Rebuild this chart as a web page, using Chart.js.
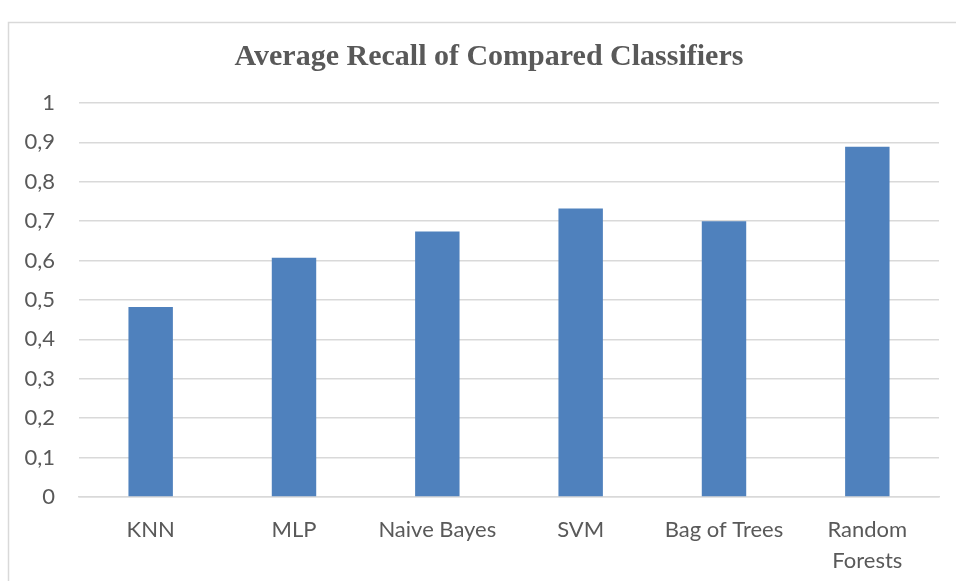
<!DOCTYPE html>
<html>
<head>
<meta charset="utf-8">
<script src="https://cdn.jsdelivr.net/npm/chart.js@4.4.0/dist/chart.umd.min.js"></script>
<style>
  html, body { margin: 0; padding: 0; background: #fff; }
  #wrap { width: 956px; height: 581px; position: relative; }
</style>
</head>
<body>
<div id="wrap"><canvas id="recallChart"></canvas></div>
<script>
// Classifier names and their average recall
const classifiers = ["KNN", "MLP", "Naive Bayes", "SVM", "Bag of Trees", ["Random", "Forests"]]
const avgRecall = [0.482, 0.607, 0.674, 0.732, 0.700, 0.889]
const yTicks = [0, 0.1, 0.2, 0.3, 0.4, 0.5, 0.6, 0.7, 0.8, 0.9, 1]
const chartTitle = "Average Recall of Compared Classifiers"

const textGray = "#595959"
const gridGray = "#d9d9d9"
const barBlue = "#4f81bd"

// light frame around the whole chart, like an office chart object
const framePlugin = {
  id: "frame",
  beforeDraw(chart) {
    const ctx = chart.ctx
    ctx.save()
    ctx.fillStyle = "#fff"
    ctx.fillRect(0, 0, chart.width, chart.height)
    ctx.strokeStyle = gridGray
    ctx.lineWidth = 1.5
    ctx.strokeRect(8.5, 22.5, 1200, 1200)
    ctx.restore()
  },
}

// title centred on the chart object rather than the canvas
const titlePlugin = {
  id: "centredTitle",
  afterDraw(chart) {
    const ctx = chart.ctx
    ctx.save()
    ctx.fillStyle = textGray
    ctx.font = "bold 30px 'Liberation Serif', serif"
    ctx.textAlign = "center"
    ctx.textBaseline = "middle"
    ctx.fillText(chartTitle, 489, 57)
    ctx.restore()
  },
}

const ctx = document.getElementById("recallChart")
new Chart(ctx, {
  type: "bar",
  data: {
    labels: classifiers,
    datasets: [
      {
        label: "Average Recall",
        data: avgRecall,
        backgroundColor: barBlue,
        borderWidth: 0,
        barPercentage: 0.31,
        categoryPercentage: 1,
      },
    ],
  },
  options: {
    responsive: true,
    maintainAspectRatio: false,
    animation: false,
    layout: {
      padding: { top: 103, right: 17, bottom: 0, left: 10 },
    },
    plugins: {
      legend: { display: false },
      tooltip: { enabled: false },
      title: { display: false },
    },
    scales: {
      y: {
        min: 0,
        max: 1,
        afterBuildTicks(scale) {
          scale.ticks = yTicks.map((v) => ({ value: v }))
        },
        afterFit(scale) {
          scale.width = 69
        },
        grid: { color: gridGray, lineWidth: 1.5, drawTicks: false },
        border: { display: false },
        ticks: {
          color: textGray,
          padding: 24,
          font: { family: "Lato, sans-serif", size: 22 },
          callback: (v) => String(v).replace(".", ","),
        },
      },
      x: {
        afterFit(scale) {
          scale.height = 84
        },
        grid: { display: false, drawTicks: false },
        border: { display: true, color: gridGray, width: 1.5 },
        ticks: {
          color: textGray,
          padding: 18,
          font: { family: "Lato, sans-serif", size: 22, lineHeight: 1.38 },
          maxRotation: 0,
          autoSkip: false,
        },
      },
    },
  },
  plugins: [framePlugin, titlePlugin],
})
</script>
</body>
</html>
